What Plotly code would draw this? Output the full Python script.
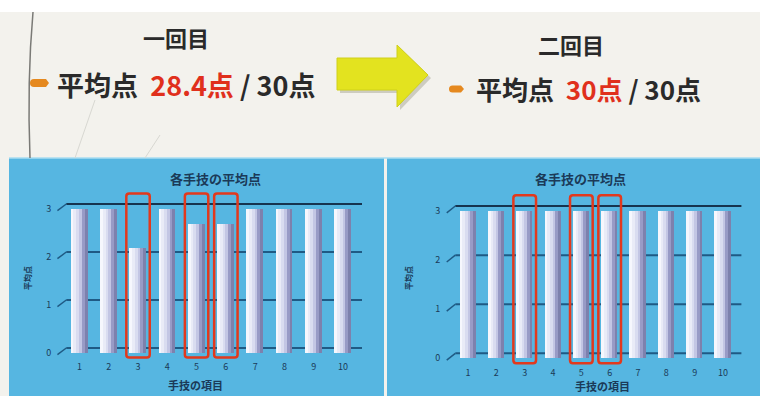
import plotly.graph_objects as go

# ---------------- data ----------------
categories = ["1", "2", "3", "4", "5", "6", "7", "8", "9", "10"]
x_pos = [1, 2, 3, 4, 5, 6, 7, 8, 9, 10]
scores_first = [3, 3, 2.2, 3, 2.7, 2.7, 3, 3, 3, 3]
scores_second = [3, 3, 3, 3, 3, 3, 3, 3, 3, 3]
highlight_items = [3, 5, 6]
y_ticks = [0, 1, 2, 3]
chart_title = "各手技の平均点"
x_title = "手技の項目"
y_title = "平均点"
round_labels = ["一回目", "二回目"]
avg_scores = ["28.4", "30"]
max_score = "30"

W, H = 760, 396
FONT = "Noto Sans CJK JP"
NAVY = "#1b3a58"
BLUE = "#56b6e1"


def px(x):
    return x / W


def py(y):
    return 1 - y / H


fig = go.Figure()

# bar strips (offset, width, colour): front face light gradient + shaded side
strips = [
    (-0.29, 0.095, "#f6f7fd"),
    (-0.195, 0.095, "#e9ebf7"),
    (-0.10, 0.095, "#d9dcf0"),
    (-0.005, 0.09, "#c3c6e4"),
    (0.085, 0.10, "#989bc6"),
    (0.185, 0.10, "#7d81ad"),
]

panels = [
    dict(xa="x", ya="y", yb="y2", scores=scores_first,
         xdom=[66.3 / W, 362 / W], ydom=[1 - 360 / H, 1 - 189.6 / H]),
    dict(xa="x2", ya="y3", yb="y4", scores=scores_second,
         xdom=[455.3 / W, 741.4 / W], ydom=[1 - 365.6 / H, 1 - 191.3 / H]),
]

shapes = []
shapes.append(dict(type="rect", xref="paper", yref="paper", x0=0, x1=1, y0=py(12), y1=1,
                   fillcolor="#ffffff", line_width=0, layer="below"))
shapes.append(dict(type="rect", xref="paper", yref="paper", x0=px(9), x1=px(384), y0=0, y1=py(158),
                   fillcolor=BLUE, line_width=0, layer="below"))
shapes.append(dict(type="rect", xref="paper", yref="paper", x0=px(387), x1=1, y0=0, y1=py(158),
                   fillcolor=BLUE, line_width=0, layer="below"))
shapes.append(dict(type="line", xref="paper", yref="paper", x0=px(9), x1=1, y0=py(158), y1=py(158),
                   line=dict(color="#a9dcf1", width=1.5), layer="below"))
shapes.append(dict(type="path", xref="paper", yref="paper",
                   path=f"M {px(33)} {py(12)} Q {px(27)} {py(80)} {px(30)} {py(158)}",
                   line=dict(color="#7a7a76", width=1.5), layer="below"))
shapes.append(dict(type="line", xref="paper", yref="paper", x0=px(75), x1=px(95), y0=py(158), y1=py(100),
                   line=dict(color="#d8d8d2", width=1), layer="below"))
shapes.append(dict(type="line", xref="paper", yref="paper", x0=px(145), x1=px(160), y0=py(158), y1=py(135),
                   line=dict(color="#d8d8d2", width=1), layer="below"))


def arrow_path(dx, dy):
    pts = [(337, 58), (397, 58), (397, 45), (428, 75), (397, 107), (397, 90), (337, 90)]
    return "M " + " L ".join(f"{px(x + dx)} {py(y + dy)}" for x, y in pts) + " Z"


shapes.append(dict(type="path", xref="paper", yref="paper", path=arrow_path(3, 3),
                   fillcolor="rgba(90,90,60,0.25)", line_width=0))
shapes.append(dict(type="path", xref="paper", yref="paper", path=arrow_path(0, 0),
                   fillcolor="#e3e31f", line=dict(color="#cfd01a", width=1)))


def bullet(x0, x1, yc, h):
    r = h / 2
    return (f"M {px(x0 + r)} {py(yc - r)} L {px(x1 - 3)} {py(yc - r)} L {px(x1)} {py(yc)} "
            f"L {px(x1 - 3)} {py(yc + r)} L {px(x0 + r)} {py(yc + r)} "
            f"Q {px(x0)} {py(yc + r)} {px(x0)} {py(yc)} Q {px(x0)} {py(yc - r)} {px(x0 + r)} {py(yc - r)} Z")


shapes.append(dict(type="path", xref="paper", yref="paper", path=bullet(30, 49, 83, 8),
                   fillcolor="#e5891f", line_width=0))
shapes.append(dict(type="path", xref="paper", yref="paper", path=bullet(449, 464, 89, 7),
                   fillcolor="#e5891f", line_width=0))

annotations = []


def ann(x, y, text, size, color, xanchor="center", angle=0):
    annotations.append(dict(x=px(x), y=py(y), xref="paper", yref="paper", showarrow=False,
                            xanchor=xanchor, yanchor="middle", textangle=angle, text=text,
                            font=dict(family=FONT, size=size, color=color)))


ann(176, 37, f"<b>{round_labels[0]}</b>", 22, "#2a2a2a")
ann(571, 44, f"<b>{round_labels[1]}</b>", 22, "#2a2a2a")
ann(55, 84, f"<b>平均点  <span style='color:#e0301c'>{avg_scores[0]}点</span> / {max_score}点</b>",
    27, "#2a2a2a", xanchor="left")
ann(474, 89, f"<b>平均点  <span style='color:#e0301c'>{avg_scores[1]}点</span> / {max_score}点</b>",
    26, "#2a2a2a", xanchor="left")

layout_axes = {}
title_pos = [(215, 178), (580, 178)]
ytitle_pos = [(27, 278), (408, 278)]
xtitle_pos = [(195, 385), (602, 386)]

for i, p in enumerate(panels):
    xa, ya, yb = p["xa"], p["ya"], p["yb"]
    for off, wid, col in strips:
        fig.add_trace(go.Bar(x=x_pos, y=p["scores"], xaxis=xa, yaxis=yb, offset=off, width=wid,
                             marker=dict(color=col, line_width=0), showlegend=False, hoverinfo="skip"))
    xkey = "xaxis" if xa == "x" else "xaxis" + xa[1:]
    yakey = "yaxis" if ya == "y" else "yaxis" + ya[1:]
    ybkey = "yaxis" + yb[1:]
    layout_axes[xkey] = dict(domain=p["xdom"], anchor=ya, range=[0.55, 10.65], tickvals=x_pos,
                             ticktext=categories, showgrid=False, zeroline=False, showline=False,
                             ticks="", tickfont=dict(family=FONT, size=9, color=NAVY), fixedrange=True)
    layout_axes[yakey] = dict(domain=p["ydom"], anchor=xa, range=[-0.25, 3.3], showgrid=False,
                              zeroline=False, showticklabels=False, ticks="", fixedrange=True)
    layout_axes[ybkey] = dict(overlaying=ya, anchor=xa, side="left", range=[-0.15, 3.4], tickvals=y_ticks,
                              showgrid=False, zeroline=False, ticks="", ticklabelstandoff=14,
                              tickfont=dict(family=FONT, size=9, color=NAVY), fixedrange=True)
    dom_ref = xa + " domain"
    for v in y_ticks:
        shapes.append(dict(type="line", xref=dom_ref, yref=ya, x0=0, x1=1, y0=v, y1=v, layer="below",
                           line=dict(color="#16344f" if v == max(y_ticks) else "#1f5a84", width=2)))
        shapes.append(dict(type="line", xref=dom_ref, yref=ya, x0=-0.03, x1=0, y0=v - 0.14, y1=v,
                           layer="below", line=dict(color="#1f5a84", width=1.5)))
    for c in highlight_items:
        x0, x1 = c - 0.4, c + 0.4
        y0, y1 = -0.2, 3.22
        rx, ry = 0.1, 0.06
        path = (f"M {x0 + rx} {y0} L {x1 - rx} {y0} Q {x1} {y0} {x1} {y0 + ry} L {x1} {y1 - ry} "
                f"Q {x1} {y1} {x1 - rx} {y1} L {x0 + rx} {y1} Q {x0} {y1} {x0} {y1 - ry} "
                f"L {x0} {y0 + ry} Q {x0} {y0} {x0 + rx} {y0} Z")
        shapes.append(dict(type="path", xref=xa, yref=ya, path=path,
                           line=dict(color="#e2391d", width=2.5), fillcolor="rgba(0,0,0,0)"))
    tx, ty = title_pos[i]
    ann(tx, ty, f"<b>{chart_title}</b>", 13, NAVY)
    tx, ty = ytitle_pos[i]
    ann(tx, ty, f"<b>{y_title}</b>", 8, NAVY, angle=-90)
    tx, ty = xtitle_pos[i]
    ann(tx, ty, f"<b>{x_title}</b>", 11, NAVY)

fig.update_layout(
    width=W, height=H, autosize=False,
    margin=dict(l=0, r=0, t=0, b=0, pad=0),
    paper_bgcolor="#f3f2ed", plot_bgcolor="rgba(0,0,0,0)",
    barmode="overlay", bargap=0, showlegend=False,
    font=dict(family=FONT),
    shapes=shapes, annotations=annotations,
    **layout_axes,
)

fig.write_html("out.html", config={"displayModeBar": False})
